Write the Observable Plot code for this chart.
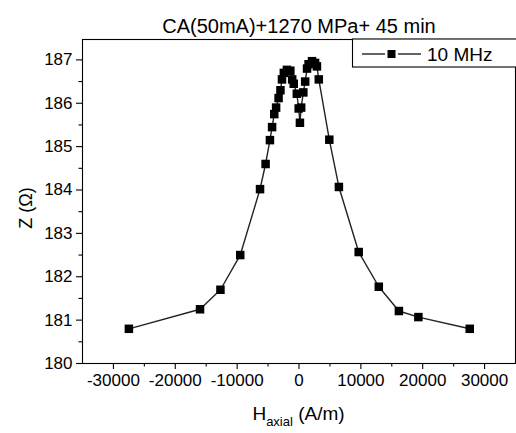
<!DOCTYPE html>
<html><head><meta charset="utf-8">
<script src="https://cdn.jsdelivr.net/npm/d3@7"></script>
<script src="https://cdn.jsdelivr.net/npm/@observablehq/plot@0.6"></script>
<style>
body{margin:0;background:#fff;}
svg{display:block;font-family:"Liberation Sans",Arial,sans-serif;}
</style>
</head><body><div id="chart"></div>
<script>
const title = "CA(50mA)+1270 MPa+ 45 min";
const seriesName = "10 MHz";
const yLabel = "Z (Ω)";
const hAxial = [-27500, -16000, -12700, -9500, -6300, -5400, -4700, -4350, -4000, -3700, -3300, -3000, -2750, -2450, -1950, -1400, -1100, -850, -350, -50, 150, 350, 700, 1000, 1300, 1550, 2100, 2600, 2900, 3200, 4900, 6450, 9650, 12900, 16150, 19300, 27600];
const impedance = [180.8, 181.25, 181.7, 182.5, 184.02, 184.6, 185.15, 185.45, 185.75, 185.9, 186.12, 186.3, 186.55, 186.7, 186.77, 186.75, 186.55, 186.45, 186.22, 185.88, 185.55, 185.9, 186.25, 186.5, 186.8, 186.9, 186.97, 186.93, 186.85, 186.55, 185.16, 184.07, 182.57, 181.77, 181.21, 181.07, 180.8];
const xTicks = [-30000, -20000, -10000, 0, 10000, 20000, 30000];
const xMinorTicks = [-25000, -15000, -5000, 5000, 15000, 25000];
const yTicks = [180, 181, 182, 183, 184, 185, 186, 187];
const yMinorTicks = [180.5, 181.5, 182.5, 183.5, 184.5, 185.5, 186.5];

const data = hAxial.map((h, i) => ({h, z: impedance[i]}));

const plot = Plot.plot({
  width: 516, height: 433,
  marginLeft: 82, marginRight: 1, marginTop: 39, marginBottom: 70,
  style: {fontFamily: '"Liberation Sans",Arial,sans-serif', fontSize: "17px", color: "#000", background: "#fff", overflow: "visible"},
  x: {domain: [-35000, 35000]},
  y: {domain: [180, 187.47]},
  marks: [
    Plot.frame({stroke: "#000", strokeWidth: 1.1}),
    Plot.axisX({ticks: xTicks, tickSize: 6, tickPadding: 4, tickFormat: d => String(d), label: null, strokeWidth: 1.1}),
    Plot.axisX({ticks: xMinorTicks, tickSize: 3.5, tickFormat: () => "", label: null, strokeWidth: 1.1}),
    Plot.axisY({ticks: yTicks, tickSize: 6, tickPadding: 4, tickFormat: d => String(d), label: null, strokeWidth: 1.1}),
    Plot.axisY({ticks: yMinorTicks, tickSize: 3.5, tickFormat: () => "", label: null, strokeWidth: 1.1}),
    Plot.line(data, {x: "h", y: "z", stroke: "#222", strokeWidth: 1.4}),
    Plot.dot(data, {x: "h", y: "z", symbol: "square", fill: "#000", stroke: "none", r: 4.8}),
    Plot.text([title], {frameAnchor: "top", dy: -21, fontSize: 20, fill: "#000"})
  ]
});

const svg = d3.select(plot);
const xs = plot.scale("x");
// x-axis label with subscript
const xl = svg.append("text")
  .attr("x", xs.apply(0)).attr("y", 420)
  .attr("text-anchor", "middle").attr("fill", "#000")
  .style("font-size", "19px");
xl.append("tspan").text("H");
xl.append("tspan").attr("dy", 6).style("font-size", "13px").text("axial");
xl.append("tspan").attr("dy", -6).text(" (A/m)");
// y-axis label
svg.append("text")
  .attr("transform", "translate(32,208) rotate(-90)")
  .attr("text-anchor", "middle").attr("fill", "#000")
  .style("font-size", "18px").text(yLabel);
// legend
const lg = svg.append("g");
lg.append("rect").attr("x", 352.5).attr("y", 39).attr("width", 170).attr("height", 28)
  .attr("fill", "#fff").attr("stroke", "#000").attr("stroke-width", 1.1);
lg.append("line").attr("x1", 362).attr("x2", 385).attr("y1", 54).attr("y2", 54)
  .attr("stroke", "#222").attr("stroke-width", 1.4);
lg.append("line").attr("x1", 398).attr("x2", 421).attr("y1", 54).attr("y2", 54)
  .attr("stroke", "#222").attr("stroke-width", 1.4);
lg.append("rect").attr("x", 387.5).attr("y", 50).attr("width", 8).attr("height", 8).attr("fill", "#000");
lg.append("text").attr("x", 427).attr("y", 54).attr("dy", "0.35em").attr("fill", "#000")
  .attr("text-anchor", "start")
  .style("font-size", "19px").text(seriesName);

document.getElementById("chart").appendChild(plot);
</script>
</body></html>
